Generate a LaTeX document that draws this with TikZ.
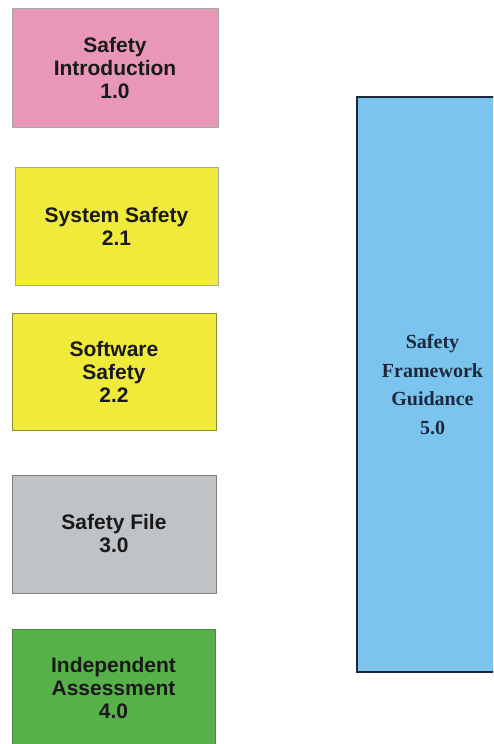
\documentclass[tikz,border=0pt]{standalone}
\usepackage{fontspec}
\setmainfont{Liberation Sans}
\newfontfamily\guidefont{Liberation Serif}
\definecolor{introfill}{RGB}{232,152,182}
\definecolor{safefill}{RGB}{240,234,58}
\definecolor{filefill}{RGB}{192,195,198}
\definecolor{assessfill}{RGB}{86,177,72}
\definecolor{guidefill}{RGB}{122,196,238}
\definecolor{guidetext}{RGB}{28,40,60}

\begin{document}
\begin{tikzpicture}[x=1pt,y=-1pt,
    box/.style={draw=gray!70,line width=.8pt,align=center,inner sep=0pt,
      text=black!90,font=\fontsize{21}{23}\selectfont\bfseries},
    guidebox/.style={draw=guidetext,line width=1.4pt,align=center,inner sep=0pt,
      text=guidetext,font=\guidefont\fontsize{20}{28.5}\selectfont\bfseries}]
  \useasboundingbox (0,0) rectangle (493,744);
  \clip (0,0) rectangle (493,744);
  \node[box,fill=introfill,minimum width=206,minimum height=119] (intro)
    at (115,67.5) {Safety\\Introduction\\1.0};
  \node[box,fill=safefill,minimum width=203,minimum height=118] (syssafe)
    at (116.5,226) {System Safety\\2.1};
  \node[box,fill=safefill,draw=safefill!60!black,minimum width=204,minimum height=117] (swsafe)
    at (114,371.5) {Software\\Safety\\2.2};
  \node[box,fill=filefill,draw=gray,minimum width=204,minimum height=118] (file)
    at (114,534) {Safety File\\3.0};
  \node[box,fill=assessfill,draw=assessfill!80!black,minimum width=203,minimum height=117] (assess)
    at (113.5,688) {Independent\\Assessment\\4.0};
  \node[guidebox,fill=guidefill,minimum width=151,minimum height=575] (guide)
    at (432.5,384.5) {Safety\\Framework\\Guidance\\5.0};
\end{tikzpicture}
\end{document}
